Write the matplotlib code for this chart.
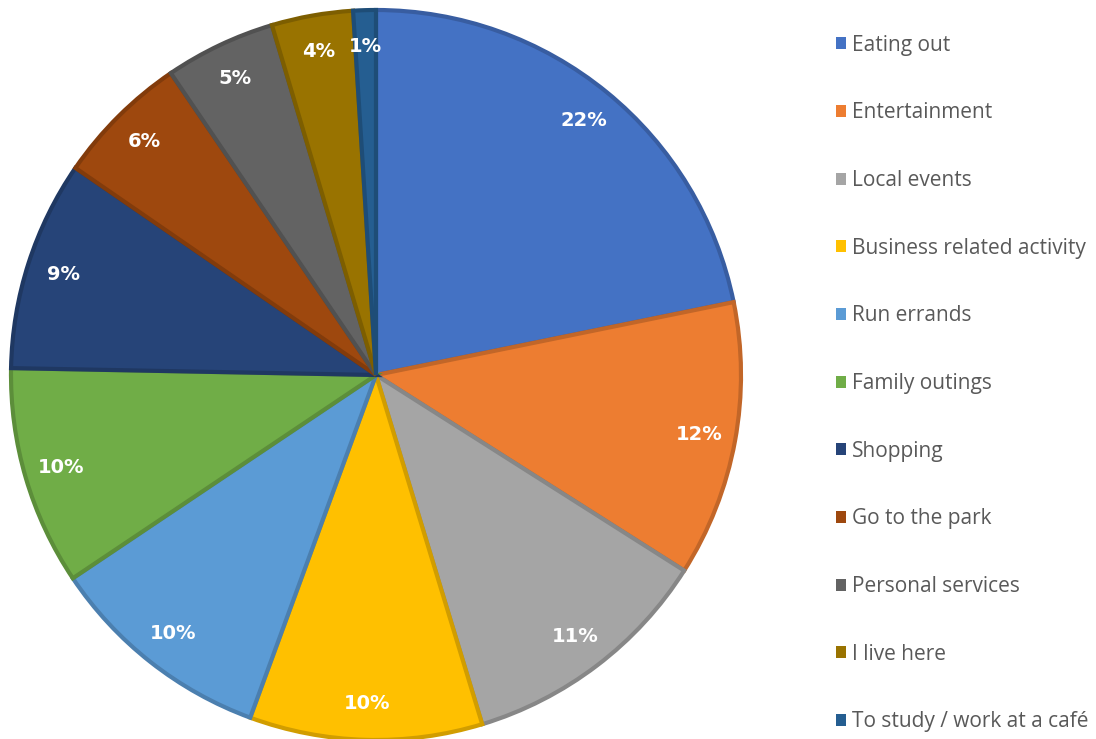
import matplotlib.pyplot as plt
import matplotlib.colors as mcolors
import numpy as np

categories = ["Eating out", "Entertainment", "Local events", "Business related activity",
              "Run errands", "Family outings", "Shopping", "Go to the park",
              "Personal services", "I live here", "To study / work at a café"]
shares = [21.8, 12.2, 11.3, 10.3, 10.0, 9.7, 9.3, 5.9, 4.9, 3.6, 1.0]
colors = ["#4472C4", "#ED7D31", "#A5A5A5", "#FFC000", "#5B9BD5", "#70AD47",
          "#264478", "#9E480E", "#636363", "#997300", "#255E91"]


def darker(c, f=0.82):
    r, g, b = mcolors.to_rgb(c)
    return (r * f, g * f, b * f)


fig = plt.figure(figsize=(10.96, 7.39), dpi=100)
ax = fig.add_axes([11 / 1096, -1 / 739, 730 / 1096, 730 / 739])

wedges, texts, autotexts = ax.pie(
    shares, colors=colors, startangle=90, counterclock=False,
    autopct="%.0f%%", pctdistance=0.9, radius=1,
    wedgeprops=dict(linewidth=3),
    textprops=dict(color="white", fontweight="bold", fontsize=14, family="DejaVu Sans"))
for w, c in zip(wedges, colors):
    w.set_edgecolor(darker(c))

ax.set_xlim(-1, 1)
ax.set_ylim(-1, 1)
ax.set_aspect("equal")
ax.axis("off")

leg = fig.legend(wedges, categories, loc="upper left",
                 bbox_to_anchor=(817 / 1096, 1 - 16 / 739),
                 frameon=False, handlelength=0.5, handleheight=0.5,
                 handletextpad=0.3, labelspacing=2.24,
                 prop=dict(family="Open Sans", size=15))
for t in leg.get_texts():
    t.set_color("#595959")
for h, c in zip(leg.legend_handles, colors):
    h.set_edgecolor(c)
    h.set_linewidth(0)

fig.savefig("out.png", dpi=100)
